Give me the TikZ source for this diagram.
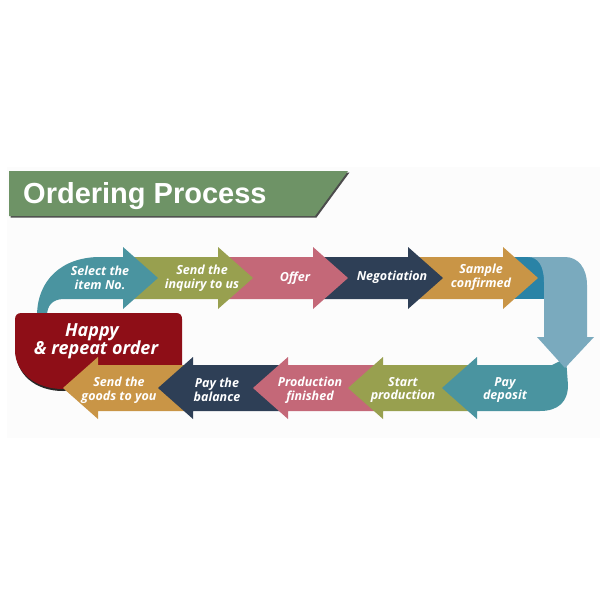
\documentclass[tikz,border=0pt]{standalone}
\usepackage{fontspec}
\setmainfont{Liberation Sans}
\newfontfamily\labfont{Open Sans}
\definecolor{cteal}{HTML}{4A94A0}
\definecolor{colive}{HTML}{98A04F}
\definecolor{crose}{HTML}{C46878}
\definecolor{cnavy}{HTML}{2E3F56}
\definecolor{cgold}{HTML}{C99546}
\definecolor{clblue}{HTML}{7AAABE}
\definecolor{cdteal}{HTML}{2A83A6}
\definecolor{cred}{HTML}{8E0E17}
\definecolor{cbanner}{HTML}{6E9366}
\newcommand\RArrowShape[6]{%
  \fill[#1] (#2,#5-#6) -- (#3,#5-#6) -- (#3,#5-31) -- (#4,#5) -- (#3,#5+31) -- (#3,#5+#6) -- (#2,#5+#6) -- cycle;}
\newcommand\LArrowShape[6]{%
  \fill[#1] (#2,#5-#6) -- (#3,#5-#6) -- (#3,#5-31) -- (#4,#5) -- (#3,#5+31) -- (#3,#5+#6) -- (#2,#5+#6) -- cycle;}
\tikzset{
  lab/.style={text=white, align=center, inner sep=0pt,
    font=\labfont\bfseries\itshape\fontsize{12.5}{13.5}\selectfont},
  biglab/.style={text=white, align=center, inner sep=0pt,
    font=\labfont\bfseries\itshape\fontsize{18}{18}\selectfont}
}
\begin{document}
\begin{tikzpicture}[x=1pt,y=-1pt]
\useasboundingbox (0,0) rectangle (600,600);
\fill[white] (0,0) rectangle (600,600);
\fill[black!1] (7,167) rectangle (600,438);
% banner
\fill[black!70] (10.5,172.5) -- (349.5,172.5) -- (316.5,217.5) -- (10.5,217.5) -- cycle;
\fill[cbanner] (9,171) -- (348,171) -- (315,216) -- (9,216) -- cycle;
\node[anchor=base west, inner sep=0pt, text=white, font=\bfseries\fontsize{29}{29}\selectfont] (title) at (23,203) {Ordering Process};
% dark fold strip
\fill[cdteal] (512,257) rectangle (546,299);
% top row
\RArrowShape{cgold}{408}{503}{538}{278}{21}
\RArrowShape{cnavy}{313}{408}{443}{278}{21}
\RArrowShape{crose}{218}{313}{348}{278}{21}
\RArrowShape{colive}{123}{218}{253}{278}{21}
\fill[cteal] (37,316) .. controls (37,280) and (62,257) .. (100,257) -- (123,257) -- (123,247) -- (158,278) -- (123,309) -- (123,299) -- (64,299) .. controls (52,299) and (47,306) .. (47,316) -- cycle;
% red box
\fill[black!85] (15.5,350) -- (15.5,330) -- (150,330) -- (150,380) -- (63,391) .. controls (35,391) and (15.5,374) .. (15.5,350) -- cycle;
\fill[cred] (15,350) -- (15,320) .. controls (15,315) and (17,313) .. (22,313) -- (176,313) .. controls (180,313) and (182,315) .. (182,319) -- (182,372) -- (63,389) .. controls (35,389) and (15,372) .. (15,350) -- cycle;
% bottom row
\LArrowShape{cgold}{193}{98}{63}{388}{23}
\LArrowShape{cnavy}{288}{193}{158}{388}{23}
\LArrowShape{crose}{383}{288}{253}{388}{23}
\LArrowShape{colive}{477}{383}{348}{388}{23}
\fill[cteal] (477,365) -- (552,365) -- (566,358) -- (568,385) .. controls (568,402) and (558,411) .. (540,411) -- (477,411) -- (477,419) -- (442,388) -- (477,357) -- cycle;
% big down arrow
\fill[clblue] (528,257) -- (565,257) .. controls (578,257) and (587,268) .. (587,285) -- (587,337) -- (594,337) -- (565,368) -- (537,337) -- (544,337) -- (544,282) .. controls (544,266) and (538,257) .. (528,257) -- cycle;
% labels
\node[lab] (l1) at (100,278) {Select the\\item No.};
\node[lab] (l2) at (202,278) {Send the\\inquiry to us};
\node[lab] (l3) at (295,278) {Offer};
\node[lab] (l4) at (392,277) {Negotiation};
\node[lab] (l5) at (481,277) {Sample\\confirmed};
\node[lab] (l6) at (505,390) {Pay\\deposit};
\node[lab] (l7) at (403,390) {Start\\production};
\node[lab] (l8) at (310,390) {Production\\finished};
\node[lab] (l9) at (217,390) {Pay the\\balance};
\node[lab] (l10) at (119,390) {Send the\\goods to you};
\node[biglab, align=center] (happy) at (96,341) {\hspace*{-8pt}Happy\\\& repeat order};
\end{tikzpicture}
\end{document}
